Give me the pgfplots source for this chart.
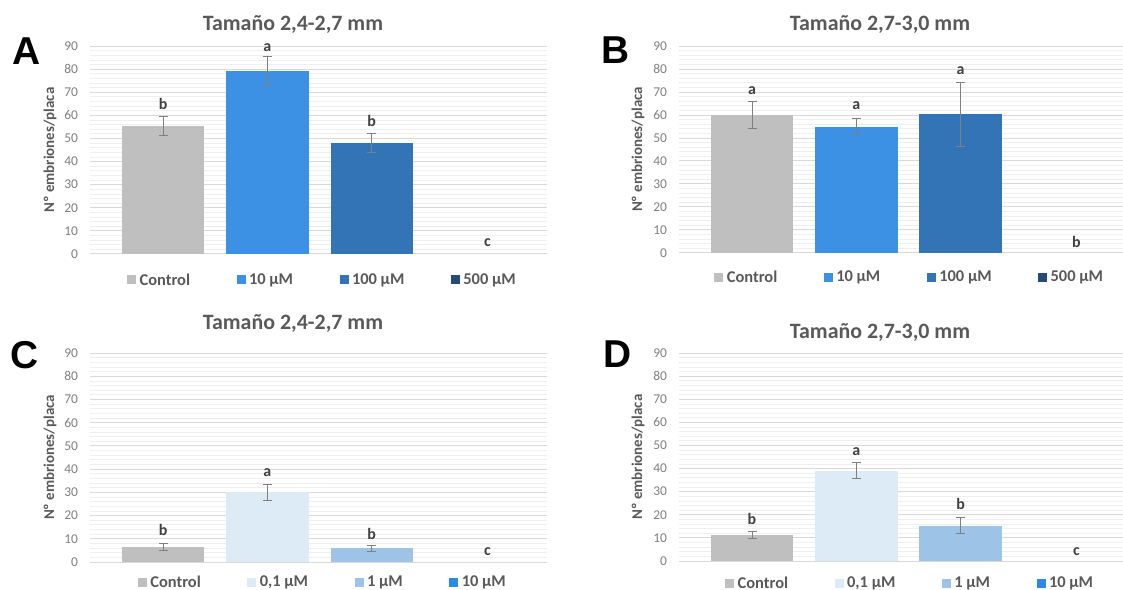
\documentclass[border=0pt]{standalone}
\usepackage{fontspec}
\setmainfont{Carlito}
\newfontfamily\panelfont{Liberation Sans}
\usepackage{pgfplots}
\pgfplotsset{compat=1.18}
\definecolor{cgray}{HTML}{BFBFBF}
\definecolor{cblue}{HTML}{3D91E4}
\definecolor{cmid}{HTML}{3274B5}
\definecolor{cnavy}{HTML}{264B78}
\definecolor{clight}{HTML}{DDEBF7}
\definecolor{cpale}{HTML}{9DC3E6}
\definecolor{cbright}{HTML}{2E89E3}
\definecolor{tgray}{HTML}{595959}
\definecolor{tickc}{HTML}{7F7F7F}
\definecolor{gridc}{HTML}{D9D9D9}
\definecolor{mgridc}{HTML}{EFEFEF}
\definecolor{lett}{HTML}{404040}
\definecolor{ebar}{HTML}{7F7F7F}
\tikzset{lt/.style={font=\bfseries\fontsize{16}{18}\selectfont, text=lett}}
\pgfplotsset{
  panel/.style={
    scale only axis, anchor=south west, clip=false,
    ybar, bar width=0.79,
    xmin=-0.70, ymin=0, ymax=90,
    ytick={0,10,...,90}, minor y tick num=4,
    xtick=\empty,
    ymajorgrids, yminorgrids,
    major grid style={draw=gridc, line width=1bp},
    minor grid style={draw=mgridc, line width=0.7bp},
    axis x line*=bottom, axis y line*=left,
    x axis line style={draw=gridc, line width=1bp, -},
    y axis line style={draw=none},
    major tick length=0pt, minor tick length=0pt,
    /pgf/number format/assume math mode=true,
    yticklabel style={font=\fontsize{13.5}{15}\selectfont, text=tickc, xshift=-8.5bp},
    ylabel={Nº embriones/placa},
    every axis y label/.style={rotate=90, anchor=center, font=\bfseries\fontsize{15}{17}\selectfont, text=tgray},
    legend columns=4,
    legend style={draw=none, fill=none, anchor=center,
      font=\bfseries\fontsize{16.5}{18}\selectfont, text=tgray,
      nodes={inner sep=1.5bp},
      /tikz/every odd column/.append style={column sep=2bp},
      /tikz/every even column/.append style={column sep=45bp}},
  },
  sq/.style={draw=none, fill=#1, bar shift=0pt,
    legend image code/.code={\fill[fill=#1] (0bp,-4.5bp) rectangle (9bp,4.5bp);}},
  sqz/.style={draw=none, fill=none, bar shift=0pt,
    legend image code/.code={\fill[fill=#1] (0bp,-4.5bp) rectangle (9bp,4.5bp);}},
  eb/.style={error bars/.cd, y dir=both, y explicit,
    error bar style={draw=ebar, line width=1bp},
    error mark options={draw=ebar, rotate=90, mark size=4.5bp, line width=1bp}},
}
\begin{document}
\begin{tikzpicture}
\path[use as bounding box] (0,0) rectangle (1123bp,590bp);
% ---------- A ----------
\begin{axis}[panel, at={(90bp,336bp)}, width=457bp, height=208bp, xmax=3.68,
  ylabel style={at={(axis description cs:-0.0875,0.5)}},
  legend style={at={(0.508,-0.125)}}]
\addplot[sq=cgray, eb] coordinates {(0,55.3) +- (0,4.0)};
\addplot[sq=cblue, eb] coordinates {(1,79.0) +- (0,6.3)};
\addplot[sq=cmid, eb] coordinates {(2,48.0) +- (0,4.2)};
\addplot[sqz=cnavy] coordinates {(3,0)};
\legend{Control, 10 µM, 100 µM, 500 µM}
\node[lt] at (axis cs:0,65.1) {b};
\node[lt] at (axis cs:1,89.4) {a};
\node[lt] at (axis cs:2,57.6) {b};
\node[lt] at (axis cs:3.11,5.0) {c};
\end{axis}
% ---------- B ----------
\begin{axis}[panel, at={(679bp,337bp)}, width=444bp, height=207bp, xmax=3.557,
  ylabel style={at={(axis description cs:-0.0923,0.5)}},
  legend style={at={(0.519,-0.116)}}]
\addplot[sq=cgray, eb] coordinates {(0,60.0) +- (0,6.0)};
\addplot[sq=cblue, eb] coordinates {(1,55.0) +- (0,3.5)};
\addplot[sq=cmid, eb] coordinates {(2,60.3) +- (0,14.0)};
\addplot[sqz=cnavy] coordinates {(3,0)};
\legend{Control, 10 µM, 100 µM, 500 µM}
\node[lt] at (axis cs:0,70.8) {a};
\node[lt] at (axis cs:1,64.0) {a};
\node[lt] at (axis cs:2,79.3) {a};
\node[lt] at (axis cs:3.11,4.9) {b};
\end{axis}
% ---------- C ----------
\begin{axis}[panel, at={(90bp,28bp)}, width=457bp, height=209bp, xmax=3.68,
  ylabel style={at={(axis description cs:-0.0875,0.5)}},
  legend style={at={(0.509,-0.096)}}]
\addplot[sq=cgray, eb] coordinates {(0,6.4) +- (0,1.6)};
\addplot[sq=clight, eb] coordinates {(1,30.0) +- (0,3.4)};
\addplot[sq=cpale, eb] coordinates {(2,5.9) +- (0,1.3)};
\addplot[sqz=cbright] coordinates {(3,0)};
\legend{Control, {0,1 µM}, 1 µM, 10 µM}
\node[lt] at (axis cs:0,14.0) {b};
\node[lt] at (axis cs:1,38.6) {a};
\node[lt] at (axis cs:2,12.2) {b};
\node[lt] at (axis cs:3.11,4.6) {c};
\end{axis}
% ---------- D ----------
\begin{axis}[panel, at={(679bp,29bp)}, width=444bp, height=208bp, xmax=3.557,
  ylabel style={at={(axis description cs:-0.0923,0.5)}},
  legend style={at={(0.52,-0.106)}}]
\addplot[sq=cgray, eb] coordinates {(0,11.3) +- (0,1.5)};
\addplot[sq=clight, eb] coordinates {(1,39.0) +- (0,3.5)};
\addplot[sq=cpale, eb] coordinates {(2,15.3) +- (0,3.4)};
\addplot[sqz=cbright] coordinates {(3,0)};
\legend{Control, {0,1 µM}, 1 µM, 10 µM}
\node[lt] at (axis cs:0,18.4) {b};
\node[lt] at (axis cs:1,47.3) {a};
\node[lt] at (axis cs:2,24.6) {b};
\node[lt] at (axis cs:3.11,4.2) {c};
\end{axis}
% titles and panel letters
\begin{scope}[every node/.style={font=\bfseries\fontsize{22}{24}\selectfont, text=tgray, anchor=base}]
\node at (293bp,559bp) {Tamaño 2,4-2,7 mm};
\node at (880bp,559bp) {Tamaño 2,7-3,0 mm};
\node at (293bp,260bp) {Tamaño 2,4-2,7 mm};
\node at (880bp,251.7bp) {Tamaño 2,7-3,0 mm};
\end{scope}
\begin{scope}[every node/.style={font=\panelfont\bfseries\fontsize{39}{40}\selectfont, text=black, anchor=center}]
\node at (26.5bp,539bp) {A};
\node at (615.5bp,540bp) {B};
\node at (25bp,235bp) {C};
\node at (617.5bp,236bp) {D};
\end{scope}
\end{tikzpicture}
\end{document}
